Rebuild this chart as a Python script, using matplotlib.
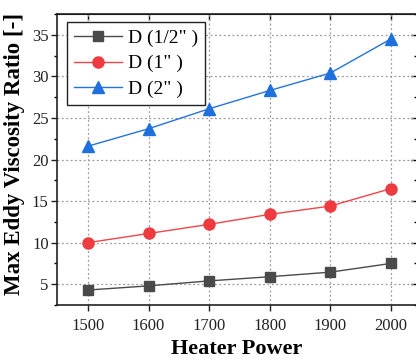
import matplotlib
matplotlib.use("Agg")
import matplotlib.pyplot as plt
from matplotlib.ticker import MultipleLocator

plt.rcParams['font.family'] = ['Liberation Serif', 'DejaVu Serif']

power = [1500, 1600, 1700, 1800, 1900, 2000]
d_half = [4.3, 4.8, 5.4, 5.9, 6.45, 7.5]
d_one = [10.0, 11.1, 12.2, 13.4, 14.4, 16.5]
d_two = [21.6, 23.7, 26.1, 28.3, 30.4, 34.5]
labels = ['D (1/2" )', 'D (1" )', 'D (2" )']

fig = plt.figure(figsize=(4.16, 3.61), dpi=100)
ax = fig.add_axes([57/416, 1-305/361, (417-57)/416, (305-14)/361])

ax.plot(power, d_half, color='#4a4a4a', lw=1.0, marker='s', ms=7,
        mfc='#4a4a4a', mec='#4a4a4a', label=labels[0], zorder=3)
ax.plot(power, d_one, color='#f0454a', lw=1.0, marker='o', ms=8,
        mfc='#ee3b3f', mec='#ee3b3f', label=labels[1], zorder=3)
ax.plot(power, d_two, color='#2473dc', lw=1.0, marker='^', ms=8.5,
        mfc='#1f6fdc', mec='#1f6fdc', label=labels[2], zorder=3)

ax.set_xlim(1449, 2043)
ax.set_ylim(2.5, 37.5)
ax.xaxis.set_major_locator(MultipleLocator(100))
ax.yaxis.set_major_locator(MultipleLocator(5))
ax.yaxis.set_minor_locator(MultipleLocator(2.5))

ax.grid(True, which='major', color='#9a9a9a', ls=(0, (1.5, 2.0)), lw=0.9)
for s in ax.spines.values():
    s.set_linewidth(1.2)
    s.set_color('#222222')

ax.tick_params(axis='both', which='major', direction='out', length=4, width=1.0,
               labelsize=12, colors='#222222')
ax.tick_params(axis='y', which='minor', direction='out', length=2.5, width=1.0)
ax.tick_params(axis='x', pad=5)
ax.tick_params(axis='y', pad=2)

top = ax.secondary_xaxis('top')
top.set_xticks(power)
top.tick_params(direction='in', length=4, width=1.0, labeltop=False)
right = ax.secondary_yaxis('right')
right.set_yticks([5, 10, 15, 20, 25, 30, 35])
right.yaxis.set_minor_locator(MultipleLocator(2.5))
right.tick_params(which='major', direction='in', length=4, width=1.0, labelright=False)
right.tick_params(which='minor', direction='in', length=2.5, width=1.0, labelright=False)

ax.set_xlabel('Heater Power', fontsize=16, fontweight='bold', labelpad=4)
ax.set_ylabel('Max Eddy Viscosity Ratio [-]', fontsize=16.5, fontweight='bold', labelpad=0)
ax.yaxis.set_label_coords(-0.088, 0.518)

leg = ax.legend(loc='upper left', bbox_to_anchor=(0.028, 0.972), fontsize=14,
                frameon=True, fancybox=False, edgecolor='#222222', framealpha=1,
                handlelength=2.5, handletextpad=0.3, borderpad=0.35, labelspacing=0.42,
                borderaxespad=0)
leg.get_frame().set_linewidth(1.0)

fig.savefig('out.png', dpi=100)
